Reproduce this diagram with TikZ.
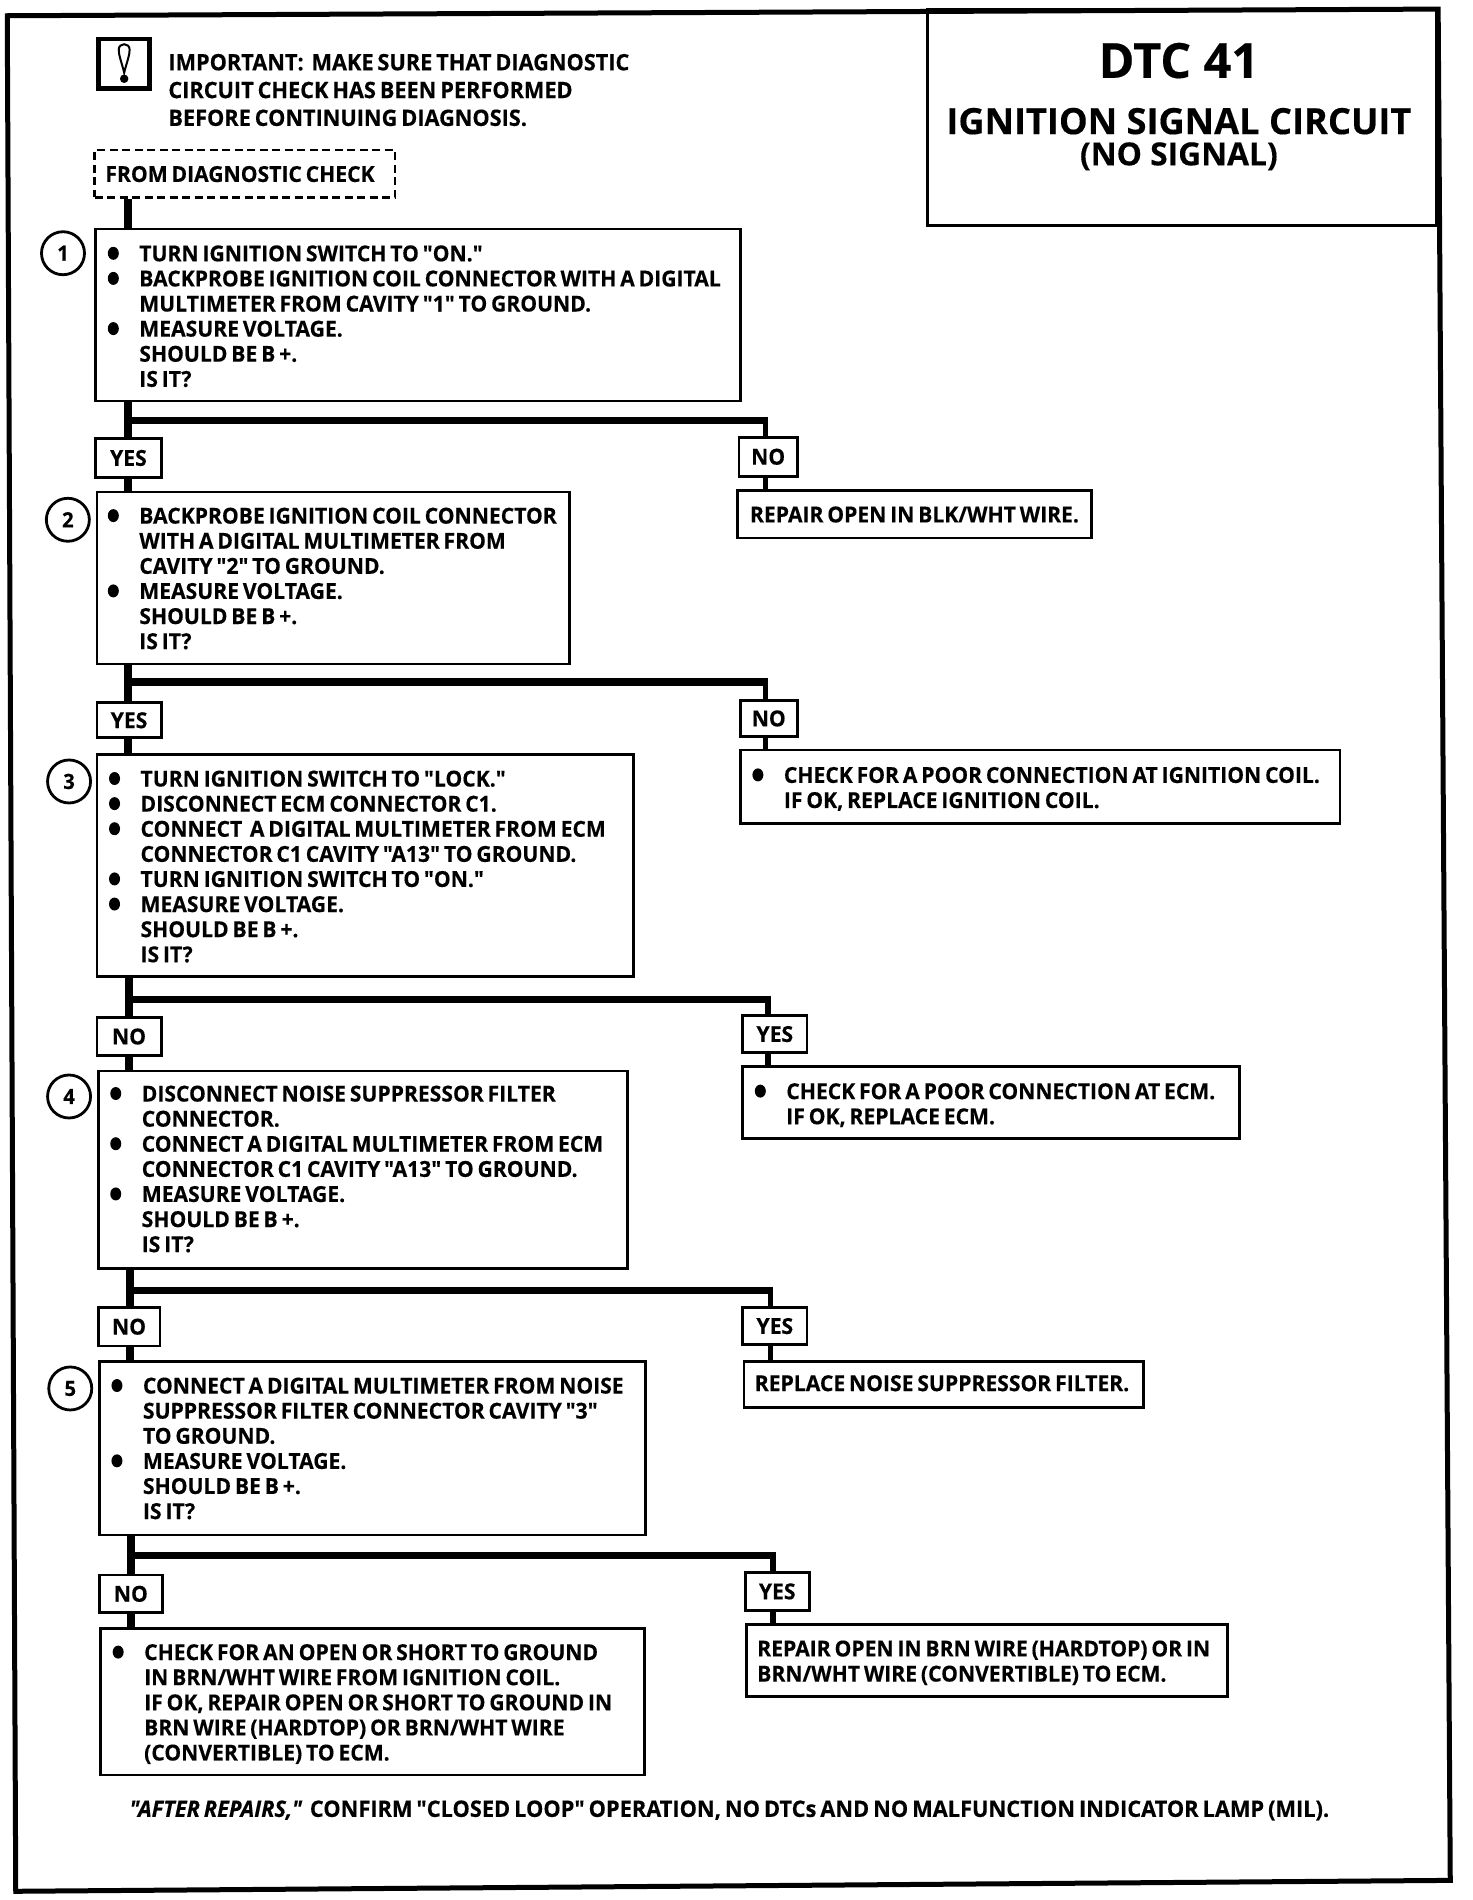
\documentclass[tikz,border=0pt]{standalone}
\usepackage{fontspec}
\newfontfamily\ftb[FakeStretch=0.96,WordSpace=0.7,FakeBold=0.35]{Open Sans Bold}
\newfontfamily\fti[FakeStretch=0.96,WordSpace=0.7,FakeBold=0.35]{Open Sans Bold Italic}
\newfontfamily\ftt[FakeStretch=1.0,FakeBold=0.3]{Open Sans Bold}
\usetikzlibrary{calc}
\newcommand{\bul}{\makebox[0pt][r]{\raisebox{1.5pt}{\tikz[x=1pt,y=1pt]\fill[black] (0,0) ellipse (5.5pt and 6.5pt);}\hspace{20.5pt}}}
\tikzset{x=1.2115pt,y=-1.2115pt,
 boxb/.style={draw=black,line width=2.8pt,fill=white,inner sep=0pt,outer sep=0pt},
 lab/.style={boxb,font=\ftb\fontsize{22}{25}\selectfont},
 txt/.style={inner sep=0pt,outer sep=0pt,anchor=north west,align=left,font=\ftb\fontsize{22}{25.1}\selectfont},
 num/.style={circle,draw=black,line width=2.8pt,minimum size=43pt,inner sep=0pt,font=\ftb\fontsize{21}{21}\selectfont},
 stem/.style={line width=8pt,black},
 drop/.style={line width=5.5pt,black},
 bar/.style={line width=7.5pt,black,line cap=butt}}
\begin{document}
\begin{tikzpicture}
\useasboundingbox (0,0) rectangle (1215,1568.2);
\fill[white] (0,0) rectangle (1215,1568.2);
% frame
\draw[line width=5pt,black,line join=miter] (6,13) -- (1187,7.5) -- (1197,1552) -- (13,1561) -- cycle;
% title
\node[draw=black,line width=2.8pt,inner sep=0pt,minimum width={420*1.2115pt},minimum height={178*1.2115pt}] (title) at (975.5,97) {};
\node[inner sep=0pt,font=\ftt\fontsize{48.5}{48.5}\selectfont] (t1) at (973,50) {DTC 41};
\node[inner sep=0pt,font=\ftt\fontsize{36.2}{36.2}\selectfont] (t2) at (973,100) {IGNITION SIGNAL CIRCUIT};
\node[inner sep=0pt,font=\ftt\fontsize{31.8}{31.8}\selectfont] (t3) at (973,129) {(NO SIGNAL)};
% important
\node[draw=black,line width=4.5pt,inner sep=0pt,minimum width={42*1.2115pt},minimum height={41*1.2115pt}] (icon) at (102.5,52.5) {};
\draw[line width=2pt,black] (102.5,60) .. controls (100,50) and (98,46) .. (98,41) .. controls (98,35) and (107,35) .. (107,41) .. controls (107,46) and (105,50) .. (102.5,60) -- cycle;
\fill[black] (102.5,65) circle (3.5);
\node[txt,font=\ftb\fontsize{22.6}{27.8}\selectfont] (imp) at (139,44.5) {IMPORTANT:\ \ MAKE SURE THAT DIAGNOSTIC\\CIRCUIT CHECK HAS BEEN PERFORMED\\BEFORE CONTINUING DIAGNOSIS.};
\node[draw=black,line width=2.4pt,dash pattern=on 8pt off 4.5pt,inner sep=0pt,minimum width={248*1.2115pt},minimum height={39*1.2115pt}] (start) at (202,143.5) {};
\node[txt] (startt) at (87,137) {FROM DIAGNOSTIC CHECK};
% boxes
\node[boxb,minimum width={532*1.2115pt},minimum height={142*1.2115pt}] (b1) at (345,260) {};
\node[boxb,minimum width={390*1.2115pt},minimum height={142*1.2115pt}] (b2) at (275,477) {};
\node[boxb,minimum width={443*1.2115pt},minimum height={183*1.2115pt}] (b3) at (301.5,714.5) {};
\node[boxb,minimum width={437*1.2115pt},minimum height={163*1.2115pt}] (b4) at (299.5,965.5) {};
\node[boxb,minimum width={451*1.2115pt},minimum height={143*1.2115pt}] (b5) at (307.5,1195.5) {};
\node[boxb,minimum width={449*1.2115pt},minimum height={121*1.2115pt}] (b6) at (307.5,1404.5) {};
\node[boxb,minimum width={292*1.2115pt},minimum height={39*1.2115pt}] (r1) at (755,424.5) {};
\node[boxb,minimum width={495*1.2115pt},minimum height={61*1.2115pt}] (r2) at (858.5,649.5) {};
\node[boxb,minimum width={410*1.2115pt},minimum height={60*1.2115pt}] (r3) at (818,910) {};
\node[boxb,minimum width={330*1.2115pt},minimum height={38*1.2115pt}] (r4) at (779,1143) {};
\node[boxb,minimum width={397*1.2115pt},minimum height={59*1.2115pt}] (r5) at (814.5,1370.5) {};
% labels
\newcommand{\lb}[6]{\node[lab,minimum width={(#4-#2)*1.2115pt},minimum height={(#5-#3)*1.2115pt}] (#1) at ({(#2+#4)/2},{(#3+#5)/2}) {#6};}
\lb{y1}{79}{362}{133}{394}{YES}
\lb{n1}{610}{361}{658}{393}{NO}
\lb{y2}{80}{580}{133}{609}{YES}
\lb{n2}{611}{578}{658}{608}{NO}
\lb{n3}{80}{840}{133}{871}{NO}
\lb{y3}{613}{838}{666}{869}{YES}
\lb{n4}{81}{1079}{132}{1111}{NO}
\lb{y4}{613}{1079}{666}{1110}{YES}
\lb{n5}{82}{1300}{134}{1331}{NO}
\lb{y5}{615}{1298}{668}{1329}{YES}
% connectors
\coordinate (l0) at (105.5,0);
\draw[stem] (start.south -| l0) -- (b1.north -| l0);
\coordinate (j1) at (105.5,347); \coordinate (d1) at (632,347);
\coordinate (j2) at (105.5,563); \coordinate (d2) at (632,563);
\coordinate (j3) at (106.5,825); \coordinate (d3) at (634,825);
\coordinate (j4) at (107.5,1065); \coordinate (d4) at (636,1065);
\coordinate (j5) at (108.5,1284); \coordinate (d5) at (638,1284);
\foreach \bx/\lf/\rt/\jn/\dn/\nx/\ry in {b1/y1/n1/j1/d1/b2/r1,b2/y2/n2/j2/d2/b3/r2,b3/n3/y3/j3/d3/b4/r3,b4/n4/y4/j4/d4/b5/r4,b5/n5/y5/j5/d5/b6/r5}{
 \draw[stem] (\bx.south -| \jn) -- (\lf.north -| \jn);
 \draw[stem] (\lf.south -| \jn) -- (\nx.north -| \jn);
 \draw[bar] (\jn) -- ([xshift=2.75pt]\dn);
 \draw[drop] ([yshift=3.75pt]\dn) -- (\rt.north -| \dn);
 \draw[drop] (\rt.south -| \dn) -- (\ry.north -| \dn);
}
% step numbers
\node[num] (c1) at (52,209) {1};
\node[num] (c2) at (56,429) {2};
\node[num] (c3) at (57,645) {3};
\node[num] (c4) at (57,905) {4};
\node[num] (c5) at (58,1146) {5};
% texts
\node[txt] (x1) at (115,202.5) {\bul TURN IGNITION SWITCH TO "ON."\\\bul BACKPROBE IGNITION COIL CONNECTOR WITH A DIGITAL\\MULTIMETER FROM CAVITY "1" TO GROUND.\\\bul MEASURE VOLTAGE.\\SHOULD BE B +.\\IS IT?};
\node[txt] (x2) at (115,419) {\bul BACKPROBE IGNITION COIL CONNECTOR\\WITH A DIGITAL MULTIMETER FROM\\CAVITY "2" TO GROUND.\\\bul MEASURE VOLTAGE.\\SHOULD BE B +.\\IS IT?};
\node[txt] (x3) at (116,636) {\bul TURN IGNITION SWITCH TO "LOCK."\\\bul DISCONNECT ECM CONNECTOR C1.\\\bul CONNECT\ \ A DIGITAL MULTIMETER FROM ECM\\CONNECTOR C1 CAVITY "A13" TO GROUND.\\\bul TURN IGNITION SWITCH TO "ON."\\\bul MEASURE VOLTAGE.\\SHOULD BE B +.\\IS IT?};
\node[txt] (x4) at (117,896) {\bul DISCONNECT NOISE SUPPRESSOR FILTER\\CONNECTOR.\\\bul CONNECT A DIGITAL MULTIMETER FROM ECM\\CONNECTOR C1 CAVITY "A13" TO GROUND.\\\bul MEASURE VOLTAGE.\\SHOULD BE B +.\\IS IT?};
\node[txt] (x5) at (118,1137) {\bul CONNECT A DIGITAL MULTIMETER FROM NOISE\\SUPPRESSOR FILTER CONNECTOR CAVITY "3"\\TO GROUND.\\\bul MEASURE VOLTAGE.\\SHOULD BE B +.\\IS IT?};
\node[txt] (x6) at (119,1357) {\bul CHECK FOR AN OPEN OR SHORT TO GROUND\\IN BRN/WHT WIRE FROM IGNITION COIL.\\IF OK, REPAIR OPEN OR SHORT TO GROUND IN\\BRN WIRE (HARDTOP) OR BRN/WHT WIRE\\(CONVERTIBLE) TO ECM.};
\node[txt] (y1t) at (619,418) {REPAIR OPEN IN BLK/WHT WIRE.};
\node[txt] (y2t) at (647,633) {\bul CHECK FOR A POOR CONNECTION AT IGNITION COIL.\\IF OK, REPLACE IGNITION COIL.};
\node[txt] (y3t) at (649,894) {\bul CHECK FOR A POOR CONNECTION AT ECM.\\IF OK, REPLACE ECM.};
\node[txt] (y4t) at (623,1135) {REPLACE NOISE SUPPRESSOR FILTER.};
\node[txt] (y5t) at (625,1354) {REPAIR OPEN IN BRN WIRE (HARDTOP) OR IN\\BRN/WHT WIRE (CONVERTIBLE) TO ECM.};
\node[txt,font=\ftb\fontsize{22.7}{25.1}\selectfont] (foot) at (107,1486) {{\fti "AFTER REPAIRS,"}\ \ CONFIRM "CLOSED LOOP" OPERATION, NO DTCs AND NO MALFUNCTION INDICATOR LAMP (MIL).};
\end{tikzpicture}
\end{document}
